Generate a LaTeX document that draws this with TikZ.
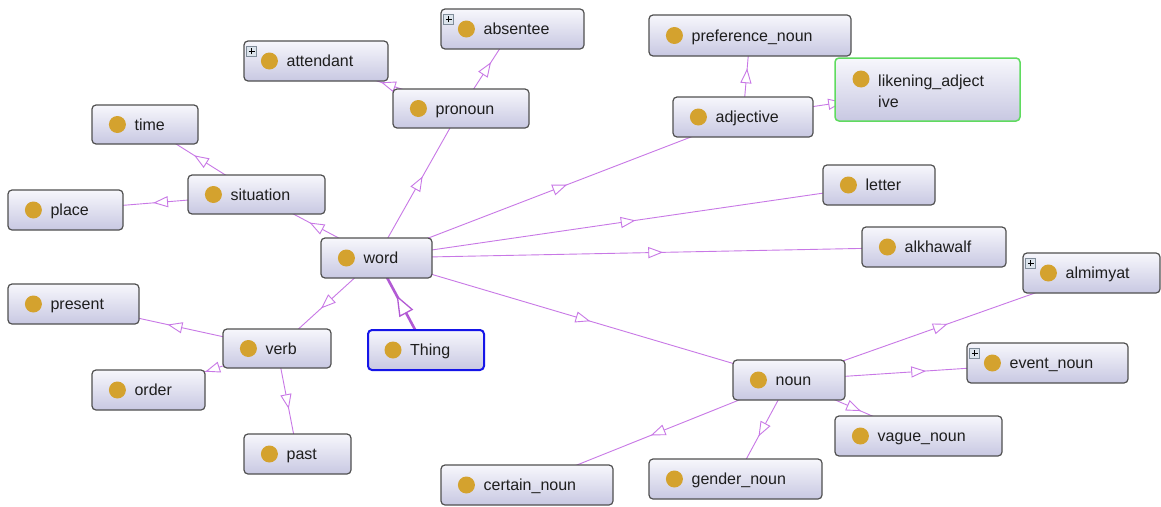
\documentclass[tikz,border=0pt]{standalone}
\usepackage{fontspec}
\setmainfont{Liberation Sans}
\usetikzlibrary{decorations.markings,backgrounds}
\definecolor{edgec}{HTML}{C878E6}
\definecolor{thickc}{HTML}{B25AD4}
\definecolor{boxborder}{HTML}{505050}
\definecolor{boxtop}{HTML}{F7F7FC}
\definecolor{boxbot}{HTML}{C8C8E2}
\definecolor{dotc}{HTML}{D4A22E}
\definecolor{txt}{HTML}{1E1E1E}
\definecolor{greenb}{HTML}{5FDB5F}
\definecolor{blueb}{HTML}{1515E8}
\definecolor{plusfill}{HTML}{DCE4EC}
\definecolor{plusborder}{HTML}{7F8C99}
\tikzset{
  clsbox/.style={draw=boxborder, line width=1.2pt, rounded corners=4pt,
    top color=boxtop, bottom color=boxbot, inner sep=0pt},
  thingbox/.style={draw=blueb, line width=2pt},
  likebox/.style={draw=greenb, line width=1.5pt},
  dotn/.style={circle, fill=dotc, draw=none, minimum size=17pt, inner sep=0pt},
  lbl/.style={anchor=base west, inner sep=0pt, text=txt, font=\fontsize{16}{19}\selectfont},
  plusbox/.style={draw=plusborder, fill=plusfill, line width=0.7pt, minimum size=10pt, inner sep=0pt, anchor=north west},
  edge/.style={draw=edgec, line width=0.9pt, postaction={decorate},
    decoration={markings, mark=at position 0.5 with {\draw[edgec, fill=white, line width=0.9pt, line join=miter] (6.5pt,0) -- (-6.5pt,5pt) -- (-6.5pt,-5pt) -- cycle;}}},
  thickedge/.style={draw=thickc, line width=2.6pt, postaction={decorate},
    decoration={markings, mark=at position 0.5 with {\draw[thickc, fill=white, line width=1.3pt, line join=miter] (8pt,0) -- (-10pt,7pt) -- (-10pt,-7pt) -- cycle;}}}
}
% #1 extra style, #2 name, #3 x, #4 y, #5 w, #6 h, #7 text
\newcommand\cls[7][]{%
  \node[clsbox,#1,minimum width=#5pt,minimum height=#6pt] (#2) at (#3+#5/2,#4+#6/2) {};
  \node[dotn] (#2-dot) at ([xshift=26pt]#2.west) {};
  \node[lbl] (#2-t) at ([xshift=43pt,yshift=-5.5pt]#2.west) {#7};
}
\newcommand\plusicon[1]{%
  \node[plusbox] (#1-plus) at ([xshift=3pt,yshift=-5.5pt]#1.north west) {};
  \draw[black, line width=1pt] ([xshift=-3pt]#1-plus.center) -- ([xshift=3pt]#1-plus.center)
    ([yshift=-3pt]#1-plus.center) -- ([yshift=3pt]#1-plus.center);
}
\begin{document}
\begin{tikzpicture}[x=1pt,y=-1pt]
\useasboundingbox (0,0) rectangle (1161,506);

\cls{absentee}{441}{9}{143}{40}{absentee}
\plusicon{absentee}
\cls{attendant}{244}{41}{144}{40}{attendant}
\plusicon{attendant}
\cls{pronoun}{393}{89}{136}{39}{pronoun}
\cls{preference}{649}{15}{202}{41}{preference\_noun}
\cls{adjective}{673}{97}{140}{40}{adjective}
% likening_adjective (two lines, green border)
\node[clsbox,likebox,minimum width=185pt,minimum height=63pt] (likening) at (835+92.5,58+31.5) {};
\node[dotn] (likening-dot) at (861,79) {};
\node[lbl] (likening-t1) at (878,86) {likening\_adject};
\node[lbl] (likening-t2) at (878,107) {ive};
\cls{time}{92}{105}{106}{39}{time}
\cls{situation}{188}{175}{137}{39}{situation}
\cls{place}{8}{190}{115}{40}{place}
\cls{letter}{823}{165}{112}{40}{letter}
\cls{word}{321}{238}{111}{40}{word}
\cls{alkhawalf}{862}{227}{144}{40}{alkhawalf}
\cls{almimyat}{1023}{253}{137}{40}{almimyat}
\plusicon{almimyat}
\cls{present}{8}{284}{131}{40}{present}
\cls{verb}{223}{329}{108}{39}{verb}
\cls[thingbox]{Thing}{368}{330}{116}{40}{Thing}
\cls{event}{967}{343}{161}{40}{event\_noun}
\plusicon{event}
\cls{noun}{733}{360}{112}{40}{noun}
\cls{order}{92}{370}{113}{40}{order}
\cls{vague}{835}{416}{167}{40}{vague\_noun}
\cls{past}{244}{434}{107}{40}{past}
\cls{certain}{441}{465}{172}{40}{certain\_noun}
\cls{gender}{649}{459}{173}{40}{gender\_noun}

\begin{scope}[on background layer]
  \fill[white] (0,0) rectangle (1161,506);
  \draw[thickedge] (Thing.center) -- (word.center);
  \foreach \c in {pronoun,adjective,letter,alkhawalf,noun,verb,situation}
    \draw[edge] (word.center) -- (\c.center);
  \foreach \c in {attendant,absentee}
    \draw[edge] (pronoun.center) -- (\c.center);
  \foreach \c in {preference,likening}
    \draw[edge] (adjective.center) -- (\c.center);
  \foreach \c in {time,place}
    \draw[edge] (situation.center) -- (\c.center);
  \foreach \c in {present,order,past}
    \draw[edge] (verb.center) -- (\c.center);
  \foreach \c in {almimyat,event,vague,gender,certain}
    \draw[edge] (noun.center) -- (\c.center);
\end{scope}
\end{tikzpicture}
\end{document}
